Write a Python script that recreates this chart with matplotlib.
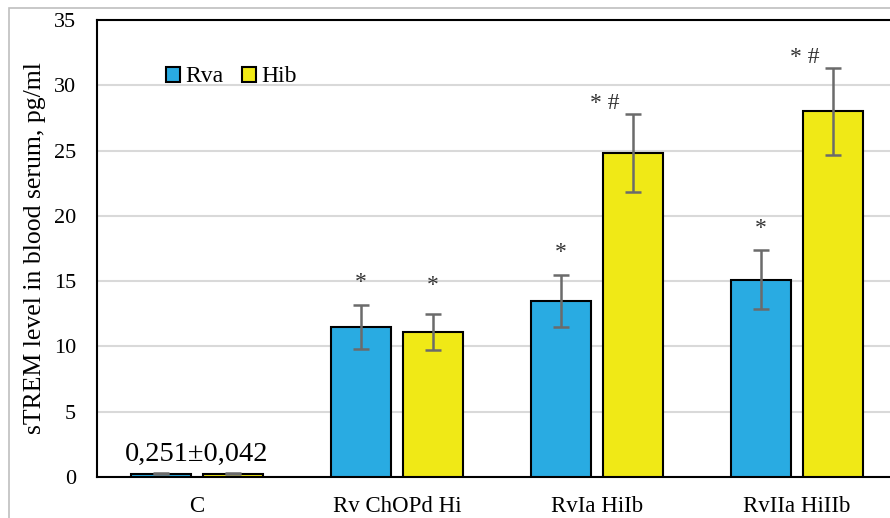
import numpy as np
import matplotlib
matplotlib.use('Agg')
import matplotlib.pyplot as plt
from matplotlib.patches import Rectangle

plt.rcParams['font.family'] = ['Liberation Serif', 'DejaVu Serif']

# data
groups = ['C', 'Rv ChOPd Hi', 'RvIa HiIb', 'RvIIa HiIIb']
rva = [0.251, 11.5, 13.5, 15.1]
rva_err = [0.042, 1.7, 2.0, 2.25]
hib = [0.251, 11.1, 24.8, 28.0]
hib_err = [0.042, 1.35, 3.0, 3.35]
rva_marks = ['', '*', '*', '*']
hib_marks = ['', '*', '* #', '* #']

blue = '#29abe2'
yellow = '#f0e916'

fig = plt.figure(figsize=(8.9, 5.18), dpi=100)
ax = fig.add_axes([97 / 890, 1 - 477 / 518, 800 / 890, 457 / 518])

x = np.arange(len(groups))
w = 0.3
off = 0.18
ax.bar(x - off, rva, w, color=blue, edgecolor='black', linewidth=1.5, label='Rva', zorder=3)
ax.bar(x + off, hib, w, color=yellow, edgecolor='black', linewidth=1.5, label='Hib', zorder=3)
ax.errorbar(x - off, rva, yerr=rva_err, fmt='none', ecolor='#6b6b6b', elinewidth=1.8,
            capsize=6, capthick=1.8, zorder=4)
ax.errorbar(x + off, hib, yerr=hib_err, fmt='none', ecolor='#6b6b6b', elinewidth=1.8,
            capsize=6, capthick=1.8, zorder=4)

# significance marks; the "* #" ones sit left of the error bar in the original
for i in range(1, len(groups)):
    ax.text(x[i] - off, rva[i] + rva_err[i] + 1.7, rva_marks[i], ha='center', va='center',
            fontsize=17, color='#333333')
    if '#' in hib_marks[i]:
        ax.text(x[i] + off - 0.14, hib[i] + hib_err[i] + 0.8, hib_marks[i], ha='center',
                va='center', fontsize=17, color='#333333')
    else:
        ax.text(x[i] + off, hib[i] + hib_err[i] + 2.2, hib_marks[i], ha='center', va='center',
                fontsize=17, color='#333333')

ax.text(x[0], 1.7, '0,251±0,042', ha='center', va='center', fontsize=20.5)

ax.set_xlim(-0.5, 3.5)
ax.set_ylim(0, 35)
ax.set_yticks(range(0, 36, 5))
ax.set_xticks(x)
ax.set_xticklabels(groups)
ax.tick_params(axis='y', length=0, labelsize=16, pad=15)
ax.tick_params(axis='x', length=0, labelsize=16.5, pad=14)
ax.yaxis.grid(True, color='#d9d9d9', linewidth=1.5, zorder=0)
ax.set_axisbelow(True)
for s in ax.spines.values():
    s.set_color('black')
    s.set_linewidth(1.5)
ax.set_ylabel('sTREM level in blood serum, pg/ml', fontsize=18.5, labelpad=6)

leg = ax.legend(loc='upper left', bbox_to_anchor=(0.06, 0.945), ncol=2, frameon=False,
                fontsize=17, handlelength=0.6, handleheight=0.6, handletextpad=0.2,
                columnspacing=0.8)

fig.patches.append(Rectangle((9 / 890, -0.1), 1.0, 1 - 8 / 518 + 0.1, transform=fig.transFigure,
                             fill=False, edgecolor='#bfbfbf', linewidth=1.2))

fig.savefig('out.png', dpi=100)
